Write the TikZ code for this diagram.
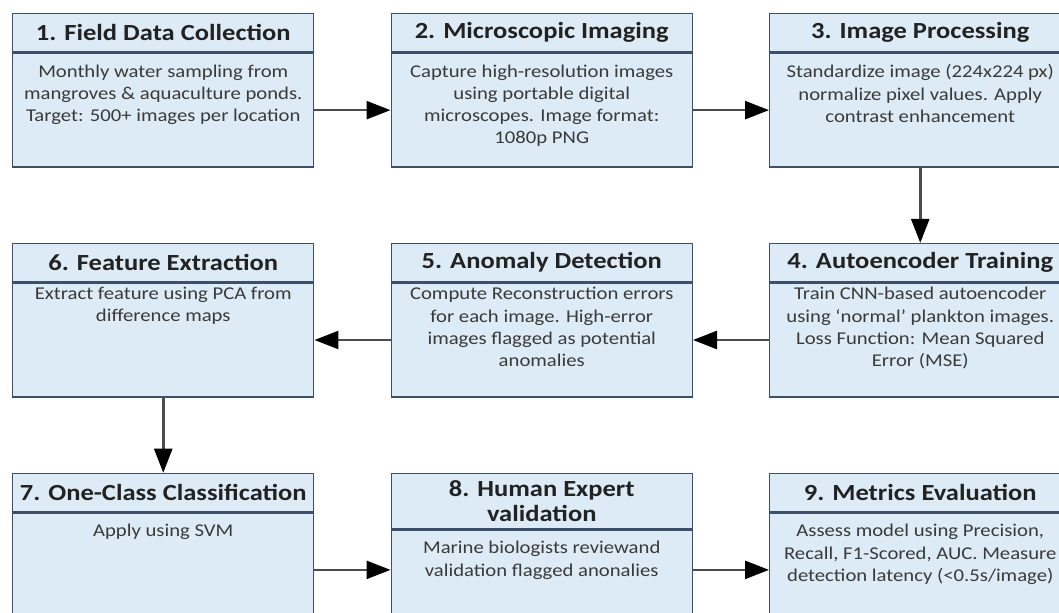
\documentclass[tikz,border=0pt]{standalone}
\usepackage{fontspec}
\setmainfont[FakeStretch=1.15]{Carlito}
\usepackage{tikz}
\usetikzlibrary{positioning,arrows.meta}
\definecolor{boxfill}{HTML}{DDEBF6}
\definecolor{boxline}{HTML}{3D5068}
\definecolor{ink}{HTML}{222222}
\definecolor{bodyink}{HTML}{3A3A3A}

\begin{document}
\begin{tikzpicture}[
    x=0.025cm, y=-0.025cm,
    head/.style={
        rectangle, draw=boxline, fill=boxfill, line width=1pt,
        minimum width=7.525cm, minimum height=0.95cm, inner sep=0pt,
        font=\fontsize{16.4}{17.5}\selectfont\bfseries, text=ink,
        align=center
    },
    tallhead/.style={head, minimum height=1.375cm},
    body/.style={
        rectangle, draw=boxline, fill=boxfill, line width=1pt,
        minimum width=7.525cm, minimum height=2.85cm, inner sep=0pt
    },
    shortbody/.style={body, minimum height=2.425cm},
    txt/.style={
        inner sep=0pt, align=center, text=bodyink,
        font=\fontsize{12.8}{15.8}\selectfont
    },
    flow/.style={draw=black!70, line width=1.8pt,
        -{Triangle[length=0.6cm, width=0.45cm, color=black]}},
]
\useasboundingbox (0,0) rectangle (1059,612);

% Row 1
\node[head, anchor=north west] (h1) at (12,13) {1. Field Data Collection};
\node[body, below=0pt of h1] (b1) {};
\node[head, right=1.9cm of h1] (h2) {2. Microscopic Imaging};
\node[body, below=0pt of h2] (b2) {};
\node[head, right=1.9cm of h2] (h3) {3. Image Processing};
\node[body, below=0pt of h3] (b3) {};

% Row 2
\node[head, below=1.875cm of b3] (h4) {4. Autoencoder Training};
\node[body, below=0pt of h4] (b4) {};
\node[head, left=1.9cm of h4] (h5) {5. Anomaly Detection};
\node[body, below=0pt of h5] (b5) {};
\node[head, left=1.9cm of h5] (h6) {6. Feature Extraction};
\node[body, below=0pt of h6] (b6) {};

% Row 3
\node[head, below=1.875cm of b6] (h7) {7. One-Class Classification};
\node[body, below=0pt of h7] (b7) {};
\node[tallhead, right=1.9cm of h7.north east, anchor=north west] (h8) {8. Human Expert\\validation};
\node[shortbody, below=0pt of h8] (b8) {};
\node[head, right=1.9cm of h8.north east, anchor=north west] (h9) {9. Metrics Evaluation};
\node[body, below=0pt of h9] (b9) {};

% Body texts
\node[txt, below=0.3cm of b1.north] (t1) {Monthly water sampling from\\mangroves \& aquaculture ponds.\\Target: 500+ images per location};
\node[txt, below=0.3cm of b2.north] (t2) {Capture high-resolution images\\using portable digital\\microscopes. Image format:\\1080p PNG};
\node[txt, below=0.3cm of b3.north] (t3) {Standardize image (224x224 px)\\normalize pixel values. Apply\\contrast enhancement};
\node[txt, below=0.12cm of b4.north] (t4) {Train CNN-based autoencoder\\using ‘normal’ plankton images.\\Loss Function: Mean Squared\\Error (MSE)};
\node[txt, below=0.12cm of b5.north] (t5) {Compute Reconstruction errors\\for each image. High-error\\images flagged as potential\\anomalies};
\node[txt, below=0.12cm of b6.north] (t6) {Extract feature using PCA from\\difference maps};
\node[txt, below=0.3cm of b7.north] (t7) {Apply using SVM};
\node[txt, below=0.3cm of b8.north] (t8) {Marine biologists reviewand\\validation flagged anonalies};
\node[txt, below=0.3cm of b9.north] (t9) {Assess model using Precision,\\Recall, F1-Scored, AUC. Measure\\detection latency (<0.5s/image)};

% Flow
\draw[flow] (b1) -- (b2);
\draw[flow] (b2) -- (b3);
\draw[flow] (b3) -- (h4);
\draw[flow] (b4) -- (b5);
\draw[flow] (b5) -- (b6);
\draw[flow] (b6) -- (h7);
\draw[flow] (b7.east) -- (b7.east -| b8.west);
\draw[flow] (b7.east -| b8.east) -- (b7.east -| b9.west);

\end{tikzpicture}
\end{document}
